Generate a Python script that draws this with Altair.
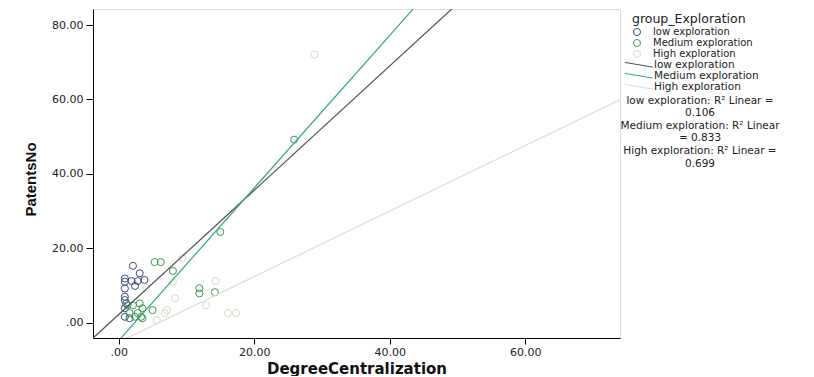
import altair as alt
import pandas as pd

groups = ["low exploration", "Medium exploration", "High exploration"]
point_colors = ["#3e4a7e", "#3d9a52", "#d6ddc2"]
line_colors = ["#4f4f5a", "#2fa889", "#dcdcdc"]

low_x = [2.1, 3.1, 0.9, 0.9, 1.9, 2.8, 3.8, 2.4, 0.9, 0.9, 0.9, 0.9, 1.6, 0.9, 1.1]
low_y = [15.3, 13.3, 11.9, 11.0, 11.2, 11.2, 11.5, 9.9, 9.2, 7.0, 6.1, 1.6, 1.2, 3.9, 5.2]

med_x = [25.9, 15.0, 5.3, 6.2, 8.0, 11.9, 11.9, 14.2, 5.0, 2.1, 3.5, 1.3, 2.4, 3.3, 2.8, 1.6, 3.5, 3.1]
med_y = [49.2, 24.4, 16.3, 16.3, 13.9, 9.3, 7.9, 8.2, 3.4, 4.7, 3.9, 4.7, 1.6, 1.6, 2.6, 2.6, 1.2, 5.2]

high_x = [28.9, 16.1, 17.3, 14.3, 9.4, 8.3, 6.8, 12.9, 8.0, 7.1, 5.6, 4.1]
high_y = [72.1, 2.6, 2.6, 11.2, 17.4, 6.6, 2.6, 4.7, 11.0, 3.4, 0.7, 9.3]

fit_slope = [1.67, 2.05, 0.88]
fit_intercept = [2.2, -4.8, -5.2]
r2_values = ["0.106", "0.833", "0.699"]

x_ticks = [0, 20, 40, 60]
y_ticks = [0, 20, 40, 60, 80]
x_domain = [-3.8, 74.0]
y_domain = [-4.1, 84.3]

# points table
rows = []
for g, xs, ys in zip(groups, [low_x, med_x, high_x], [low_y, med_y, high_y]):
    for xv, yv in zip(xs, ys):
        rows.append({"group": g, "DegreeCentralization": xv, "PatentsNo": yv})
points_df = pd.DataFrame(rows)

# fit line table (endpoints at the x-domain ends, clipped to the plot)
lrows = []
for g, s, b in zip(groups, fit_slope, fit_intercept):
    for xv in x_domain:
        lrows.append({"fit": g, "DegreeCentralization": xv, "PatentsNo": b + s * xv})
lines_df = pd.DataFrame(lrows)

note_text = (
    f"low exploration: R² Linear =\n{r2_values[0]}\n"
    f"Medium exploration: R² Linear\n= {r2_values[1]}\n"
    f"High exploration: R² Linear =\n{r2_values[2]}"
)
note_df = pd.DataFrame({"note": [note_text]})

FONT = "DejaVu Sans"
label_expr = "datum.value == 0 ? '.00' : format(datum.value, '.2f')"

x_enc = alt.X(
    "DegreeCentralization:Q",
    scale=alt.Scale(domain=x_domain, nice=False, zero=False),
    axis=alt.Axis(
        values=x_ticks, labelExpr=label_expr, title="DegreeCentralization",
        grid=False, tickSize=6, labelPadding=2, titlePadding=4,
        labelFont=FONT, labelFontSize=11, labelColor="#222",
        titleFont=FONT, titleFontSize=15, titleFontWeight="bold", titleColor="#111",
        domainColor="#000", tickColor="#000",
    ),
)
y_enc = alt.Y(
    "PatentsNo:Q",
    scale=alt.Scale(domain=y_domain, nice=False, zero=False),
    axis=alt.Axis(
        values=y_ticks, labelExpr=label_expr, title="PatentsNo",
        grid=False, tickSize=7, labelPadding=3, titlePadding=13, titleY=170,
        labelFont=FONT, labelFontSize=11, labelColor="#222",
        titleFont="Liberation Sans", titleFontSize=15, titleFontWeight="bold", titleColor="#111",
        domainColor="#000", tickColor="#000",
    ),
)

pts = alt.Chart(points_df).mark_point(filled=False, size=50, strokeWidth=1, opacity=1).encode(
    x=x_enc,
    y=y_enc,
    color=alt.Color(
        "group:N", sort=groups, scale=alt.Scale(range=point_colors),
        legend=alt.Legend(
            title="group_Exploration", orient="none", legendX=539, legendY=3.5,
            titleFont=FONT, titleFontSize=12.5, titleFontWeight="normal", titleColor="#222",
            titlePadding=2, labelFont=FONT, labelFontSize=10, labelColor="#222",
            symbolType="circle", symbolSize=50, symbolStrokeWidth=1,
            rowPadding=-2, labelOffset=11, padding=0,
        ),
    ),
)

lines = alt.Chart(lines_df).mark_line(clip=True, strokeWidth=1.2).encode(
    x="DegreeCentralization:Q",
    y="PatentsNo:Q",
    stroke=alt.Stroke(
        "fit:N", sort=groups, scale=alt.Scale(range=line_colors),
        legend=alt.Legend(
            title=None, orient="none", legendX=540.5, legendY=50.5,
            labelFont=FONT, labelFontSize=10.5, labelColor="#222",
            symbolType="M-3.1,-0.52L3.1,0.52", symbolSize=81, symbolStrokeWidth=1,
            rowPadding=0, labelOffset=10, padding=0,
        ),
    ),
)

note = alt.Chart(note_df).mark_text(
    lineBreak="\n", align="center", baseline="top", font=FONT, fontSize=10.5,
    lineHeight=12.6, color="#222",
).encode(x=alt.value(607), y=alt.value(86.5), text="note:N")

chart = alt.layer(pts, lines, note).resolve_scale(color="independent").properties(
    width=527, height=329,
    autosize=alt.AutoSizeParams(type="none"),
    padding={"left": 85, "top": 1, "right": 186, "bottom": 38},
).configure_view(stroke="#000", strokeWidth=1).configure(background="white")

chart.save("out.html", embed_options={"renderer": "svg", "actions": False})
